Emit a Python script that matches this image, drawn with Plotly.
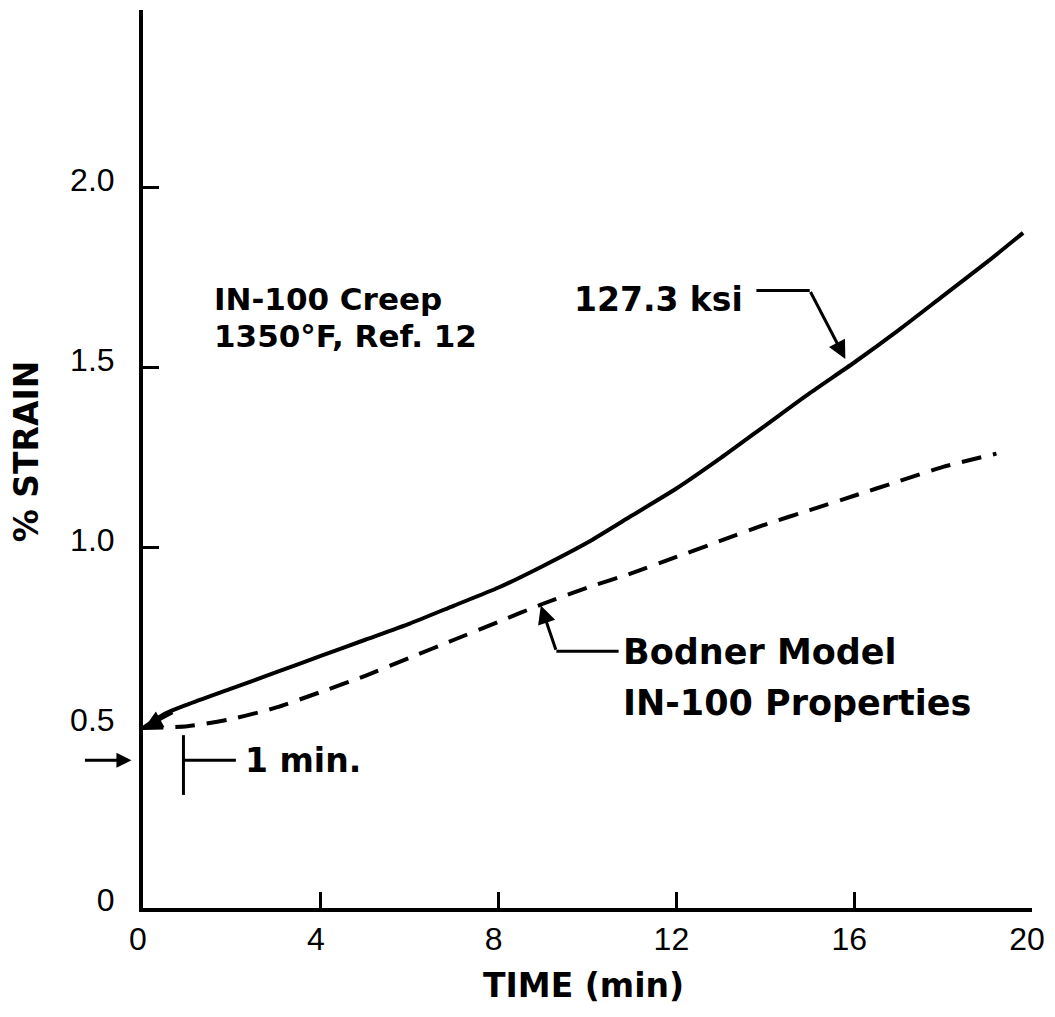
import plotly.graph_objects as go

# ---- data ----
time_creep = [0, 0.5, 1, 2, 3, 4, 5, 6, 7, 8, 9, 10, 11, 12, 13, 14, 15, 16, 17, 18, 19, 19.8]
strain_creep = [0.50, 0.54, 0.565, 0.61, 0.655, 0.70, 0.745, 0.79, 0.84, 0.89, 0.95, 1.015,
                1.09, 1.165, 1.25, 1.34, 1.43, 1.515, 1.605, 1.70, 1.795, 1.875]

time_bodner = [0, 1, 2, 3, 4, 5, 6, 7, 8, 9, 10, 11, 12, 13, 14, 15, 16, 17, 18, 19.2]
strain_bodner = [0.50, 0.505, 0.525, 0.557, 0.60, 0.645, 0.695, 0.745, 0.795, 0.845, 0.89,
                 0.93, 0.975, 1.02, 1.065, 1.105, 1.145, 1.185, 1.225, 1.262]

x_ticks = [0, 4, 8, 12, 16, 20]
x_tick_labels = ["0", "4", "8", "12", "16", "20"]
y_ticks = [0, 0.5, 1.0, 1.5, 2.0]
y_tick_labels = ["0", "0.5", "1.0", "1.5", "2.0"]

TICK_FONT = dict(family="Liberation Sans Narrow, Liberation Sans, Arial, sans-serif",
                 size=32, color="black")
BOLD_FAMILY = "DejaVu Sans, Verdana, sans-serif"
F31 = dict(family=BOLD_FAMILY, size=31, color="black")
F33 = dict(family=BOLD_FAMILY, size=33, color="black")
F35 = dict(family=BOLD_FAMILY, size=35, color="black")
F_TITLE = dict(family=BOLD_FAMILY, size=33, color="black")

fig = go.Figure()
fig.add_trace(go.Scatter(x=time_creep, y=strain_creep, mode="lines",
                         line=dict(color="black", width=4, shape="spline", smoothing=0.6),
                         hoverinfo="skip"))
fig.add_trace(go.Scatter(x=time_bodner, y=strain_bodner, mode="lines",
                         line=dict(color="black", width=4, dash="20px,12px",
                                   shape="spline", smoothing=0.6),
                         hoverinfo="skip"))

axis_common = dict(showline=True, linewidth=4, linecolor="black", mirror=False,
                   ticks="inside", ticklen=16, tickwidth=3, tickcolor="black",
                   showgrid=False, zeroline=False, tickfont=TICK_FONT,
                   ticklabeloverflow="allow")

fig.update_layout(
    width=1055, height=1017,
    margin=dict(l=143, r=14, t=10, b=109),
    paper_bgcolor="white", plot_bgcolor="white",
    showlegend=False,
    xaxis=dict(range=[0, 20], tickvals=x_ticks, ticktext=x_tick_labels,
               ticklabelstandoff=0, ticklabelshift=-5, **axis_common),
    yaxis=dict(range=[0, 2.494], tickvals=y_ticks, ticktext=y_tick_labels,
               ticklabelstandoff=18, ticklabelshift=-8, **axis_common),
)

ann = []
# axis titles
ann.append(dict(text="<b>% STRAIN</b>", xref="paper", yref="paper", x=-0.131, y=0.508,
                textangle=-90, showarrow=False, font=F_TITLE, xanchor="center", yanchor="middle"))
ann.append(dict(text="<b>TIME (min)</b>", xref="paper", yref="paper", x=0.496, y=-0.086,
                showarrow=False, font=F_TITLE, xanchor="center", yanchor="middle"))
# in-plot texts
ann.append(dict(text="<b>IN-100 Creep</b>", x=1.55, y=1.69, xanchor="left", yanchor="middle",
                showarrow=False, font=F31))
ann.append(dict(text="<b>127.3 ksi</b>", x=9.65, y=1.69, xanchor="left", yanchor="middle",
                showarrow=False, font=F33))
ann.append(dict(text="<b>1350°F, Ref. 12</b>", x=1.55, y=1.59, xanchor="left", yanchor="middle",
                showarrow=False, font=F31))
ann.append(dict(text="<b>Bodner Model</b>", x=10.75, y=0.71, xanchor="left", yanchor="middle",
                showarrow=False, font=F35))
ann.append(dict(text="<b>IN-100 Properties</b>", x=10.75, y=0.57, xanchor="left", yanchor="middle",
                showarrow=False, font=F35))
ann.append(dict(text="<b>1 min.</b>", x=2.25, y=0.41, xanchor="left", yanchor="middle",
                showarrow=False, font=F33))
# arrows
ann.append(dict(text="", x=15.8, y=1.525, ax=15.0, ay=1.715, axref="x", ayref="y",
                showarrow=True, arrowhead=2, arrowsize=1.2, arrowwidth=3, arrowcolor="black"))
ann.append(dict(text="", x=8.95, y=0.84, ax=9.3, ay=0.713, axref="x", ayref="y",
                showarrow=True, arrowhead=2, arrowsize=1.2, arrowwidth=3, arrowcolor="black"))
ann.append(dict(text="", x=0.03, y=0.50, ax=0.7, ay=0.545, axref="x", ayref="y",
                showarrow=True, arrowhead=2, arrowsize=1.2, arrowwidth=3, arrowcolor="black"))
ann.append(dict(text="", xref="paper", x=-0.013, y=0.41, ax=-48, ay=0,
                showarrow=True, arrowhead=2, arrowsize=1.0, arrowwidth=3, arrowcolor="black"))
fig.update_layout(annotations=ann)

# leader lines
shapes = [
    dict(type="line", x0=13.8, y0=1.715, x1=15.0, y1=1.715, line=dict(color="black", width=3)),
    dict(type="line", x0=9.3, y0=0.713, x1=10.7, y1=0.713, line=dict(color="black", width=3)),
    dict(type="line", x0=0.91, y0=0.314, x1=0.91, y1=0.48, line=dict(color="black", width=3)),
    dict(type="line", x0=0.91, y0=0.41, x1=2.09, y1=0.41, line=dict(color="black", width=3)),
]
fig.update_layout(shapes=shapes)

# remove the default 8px page margin so the 1055x1017 figure fills the window exactly
fig.write_html("out.html",
               config={"displayModeBar": False},
               post_script="document.body.style.margin='0';document.body.style.overflow='hidden';")
